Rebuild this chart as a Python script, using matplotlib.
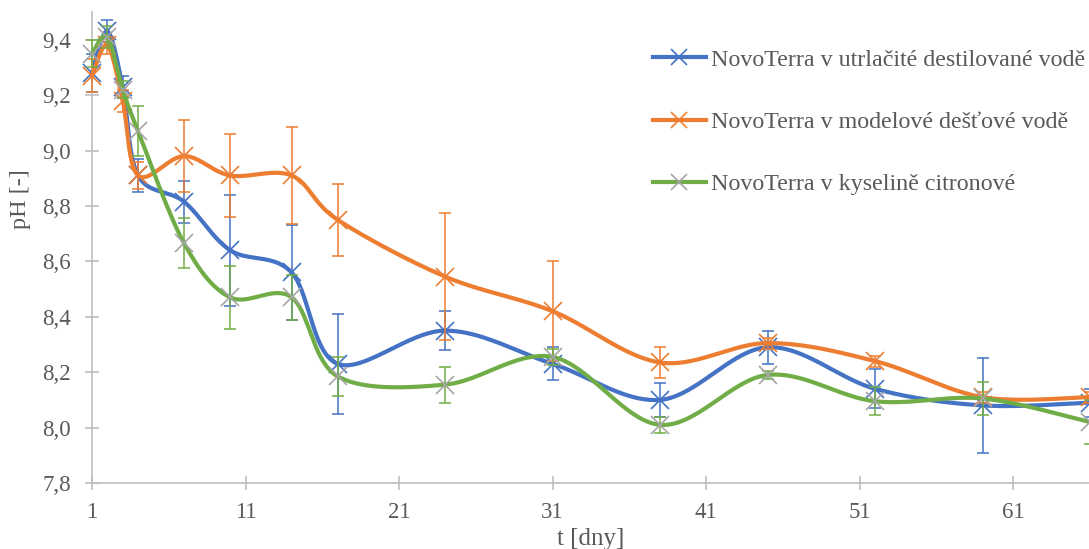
import numpy as np
import matplotlib
matplotlib.use('Agg')
import matplotlib.pyplot as plt
from matplotlib.lines import Line2D
from matplotlib.ticker import FuncFormatter

# ---- data ----
days = [1, 2, 3, 4, 7, 10, 14, 17, 24, 31, 38, 45, 52, 59, 66]

series_names = [
    "NovoTerra v utrlačité destilované vodě",
    "NovoTerra v modelové dešťové vodě",
    "NovoTerra v kyselině citronové",
]

ph_destilovana = [9.28, 9.43, 9.23, 8.91, 8.815, 8.64, 8.56, 8.23, 8.35, 8.23, 8.10, 8.29, 8.14, 8.08, 8.09]
err_destilovana = [0.07, 0.04, 0.04, 0.06, 0.075, 0.20, 0.17, 0.18, 0.07, 0.06, 0.06, 0.06, 0.07, 0.17, 0.05]

ph_destova = [9.27, 9.38, 9.18, 8.91, 8.98, 8.91, 8.91, 8.75, 8.545, 8.42, 8.235, 8.305, 8.24, 8.11, 8.11]
err_destova = [0.06, 0.03, 0.04, 0.05, 0.13, 0.15, 0.175, 0.13, 0.23, 0.18, 0.055, 0.02, 0.02, 0.02, 0.02]

ph_citronova = [9.35, 9.41, 9.22, 9.07, 8.665, 8.47, 8.47, 8.185, 8.155, 8.255, 8.01, 8.19, 8.095, 8.105, 8.02]
err_citronova = [0.05, 0.04, 0.03, 0.09, 0.09, 0.115, 0.08, 0.07, 0.065, 0.03, 0.03, 0.015, 0.05, 0.06, 0.08]

x_ticks = [1, 11, 21, 31, 41, 51, 61]
y_ticks = [7.8, 8.0, 8.2, 8.4, 8.6, 8.8, 9.0, 9.2, 9.4]

line_colors = ["#4472C4", "#ED7D31", "#70AD47"]
marker_colors = ["#4472C4", "#ED7D31", "#A5A5A5"]
text_color = "#595959"
axis_color = "#BFBFBF"


def smooth(x, y, n=40):
    """Excel-like smoothed line (cardinal Bezier through the points)."""
    P = np.column_stack([np.asarray(x, float), np.asarray(y, float)])
    Pe = np.vstack([P[0], P, P[-1]])
    t = np.linspace(0, 1, n)[:, None]
    out = []
    for i in range(len(P) - 1):
        p0, p3 = P[i], P[i + 1]
        c1 = p0 + (Pe[i + 2] - Pe[i]) / 6.0
        c2 = p3 - (Pe[i + 3] - Pe[i + 1]) / 6.0
        seg = (1 - t) ** 3 * p0 + 3 * (1 - t) ** 2 * t * c1 + 3 * (1 - t) * t ** 2 * c2 + t ** 3 * p3
        out.append(seg if i == 0 else seg[1:])
    s = np.vstack(out)
    return s[:, 0], s[:, 1]


plt.rcParams['font.family'] = ['Liberation Serif', 'DejaVu Serif']

W, H = 1089, 549
fig = plt.figure(figsize=(W / 100, H / 100), dpi=100)
left_px, right_px, bottom_px, top_px = 92, 1090, 483, 12
ax = fig.add_axes([left_px / W, (H - bottom_px) / H, (right_px - left_px) / W, (bottom_px - top_px) / H])

data = [(ph_destilovana, err_destilovana), (ph_destova, err_destova), (ph_citronova, err_citronova)]

handles = []
for k, (vals, errs) in enumerate(data):
    sx, sy = smooth(days, vals)
    ax.plot(sx, sy, color=line_colors[k], lw=3.0, solid_capstyle='round', zorder=2 + k, clip_on=False)
    ax.errorbar(days, vals, yerr=errs, fmt='none', ecolor=line_colors[k], elinewidth=1.1,
                capsize=4.5, capthick=1.1, zorder=2 + k + 0.1, clip_on=False)
    ax.plot(days, vals, linestyle='none', marker='x', ms=13, mew=1.2,
            color=marker_colors[k], zorder=2 + k + 0.2, clip_on=False)
    handles.append(Line2D([0], [0], color=line_colors[k], lw=3.0, marker='x', ms=11, mew=1.2,
                          markeredgecolor=marker_colors[k]))

ax.set_xlim(1, 66)
ax.set_ylim(7.8, 9.5)
ax.set_xticks(x_ticks)
ax.set_yticks(y_ticks)
ax.yaxis.set_major_formatter(FuncFormatter(lambda v, p: f"{v:.1f}".replace('.', ',')))

for s in ['top', 'right']:
    ax.spines[s].set_visible(False)
for s in ['left', 'bottom']:
    ax.spines[s].set_color(axis_color)
    ax.spines[s].set_linewidth(1.2)

ax.tick_params(axis='both', direction='inout', length=10, width=1.2, color=axis_color,
               labelcolor=text_color, labelsize=16.5)
ax.tick_params(axis='y', pad=10)
ax.tick_params(axis='x', pad=9)

ax.set_xlabel("t [dny]", fontsize=18, color=text_color, labelpad=3)
ax.set_ylabel("pH [-]", fontsize=17.5, color=text_color)
ax.yaxis.set_label_coords((31 - left_px) / (right_px - left_px), (bottom_px - 199) / (bottom_px - top_px))

leg = fig.legend(handles, series_names, loc='upper left', bbox_to_anchor=(653 / W, 1 - 49 / H),
                 frameon=False, fontsize=17.3, labelcolor=text_color, handlelength=2.2,
                 handletextpad=0.2, labelspacing=1.68, borderpad=0, borderaxespad=0)

fig.savefig("out.png", dpi=100, facecolor='white')
